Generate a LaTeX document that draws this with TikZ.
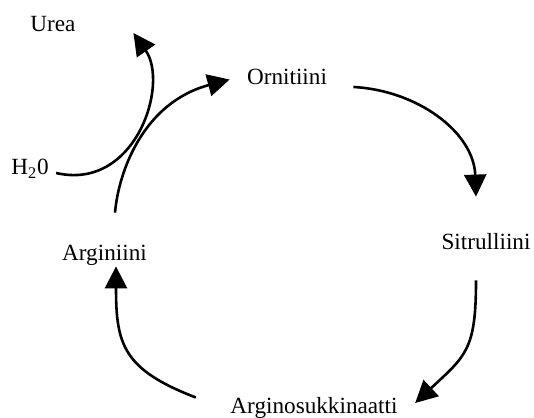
\documentclass[tikz,border=0pt]{standalone}
\usepackage{fontspec}
\setmainfont{Liberation Serif}
\usetikzlibrary{arrows.meta}

\tikzstyle{metab} = [inner sep=0pt, anchor=base, text height=8pt, text depth=2.5pt, font=\fontsize{11.6}{14}\selectfont]
\tikzstyle{arrow} = [line width=1.3pt,->,>={Triangle[length=11pt,width=11pt]}]

\begin{document}
\begin{tikzpicture}[x=0.5pt, y=0.5pt]

    \useasboundingbox (0,0) rectangle (534,417);

    % Draw nodes
    \node (urea) [metab] at (53,385) {Urea};
    \node (orn) [metab] at (287,332) {Ornitiini};
    \node (sit) [metab] at (486,167) {Sitrulliini};
    \node (argi) [metab] at (104.5,156) {Arginiini};
    \node (argino) [metab] at (314,4) {Arginosukkinaatti};
    \node (water) [metab] at (30,242) {H\textsubscript{2}0};

    % Draw connections
    \draw [arrow] ([xshift=13pt,yshift=-3.75pt]orn.east) to[out=-3,in=92] ([xshift=-5pt,yshift=18.5pt]sit.north);
    \draw [arrow] ([xshift=-5pt,yshift=-12.5pt]sit.south) to[out=-90,in=43,looseness=1.3] ([xshift=8.6pt,yshift=2.25pt]argino.east);
    \draw [arrow] ([xshift=-17.1pt,yshift=5pt]argino.west) to[out=159,in=-90,looseness=1.3] ([xshift=5.75pt]argi.south);
    \draw [arrow] ([xshift=5.25pt,yshift=16pt]argi.north) to[out=85,in=195,out looseness=0.6,in looseness=1.3] ([xshift=-8.5pt]orn.west);
    \draw [arrow] ([xshift=3.5pt,yshift=-1.75pt]water.east) to[out=-13,in=-55,out looseness=1.3] ([xshift=28.75pt,yshift=-3.25pt]urea.east);

\end{tikzpicture}
\end{document}
